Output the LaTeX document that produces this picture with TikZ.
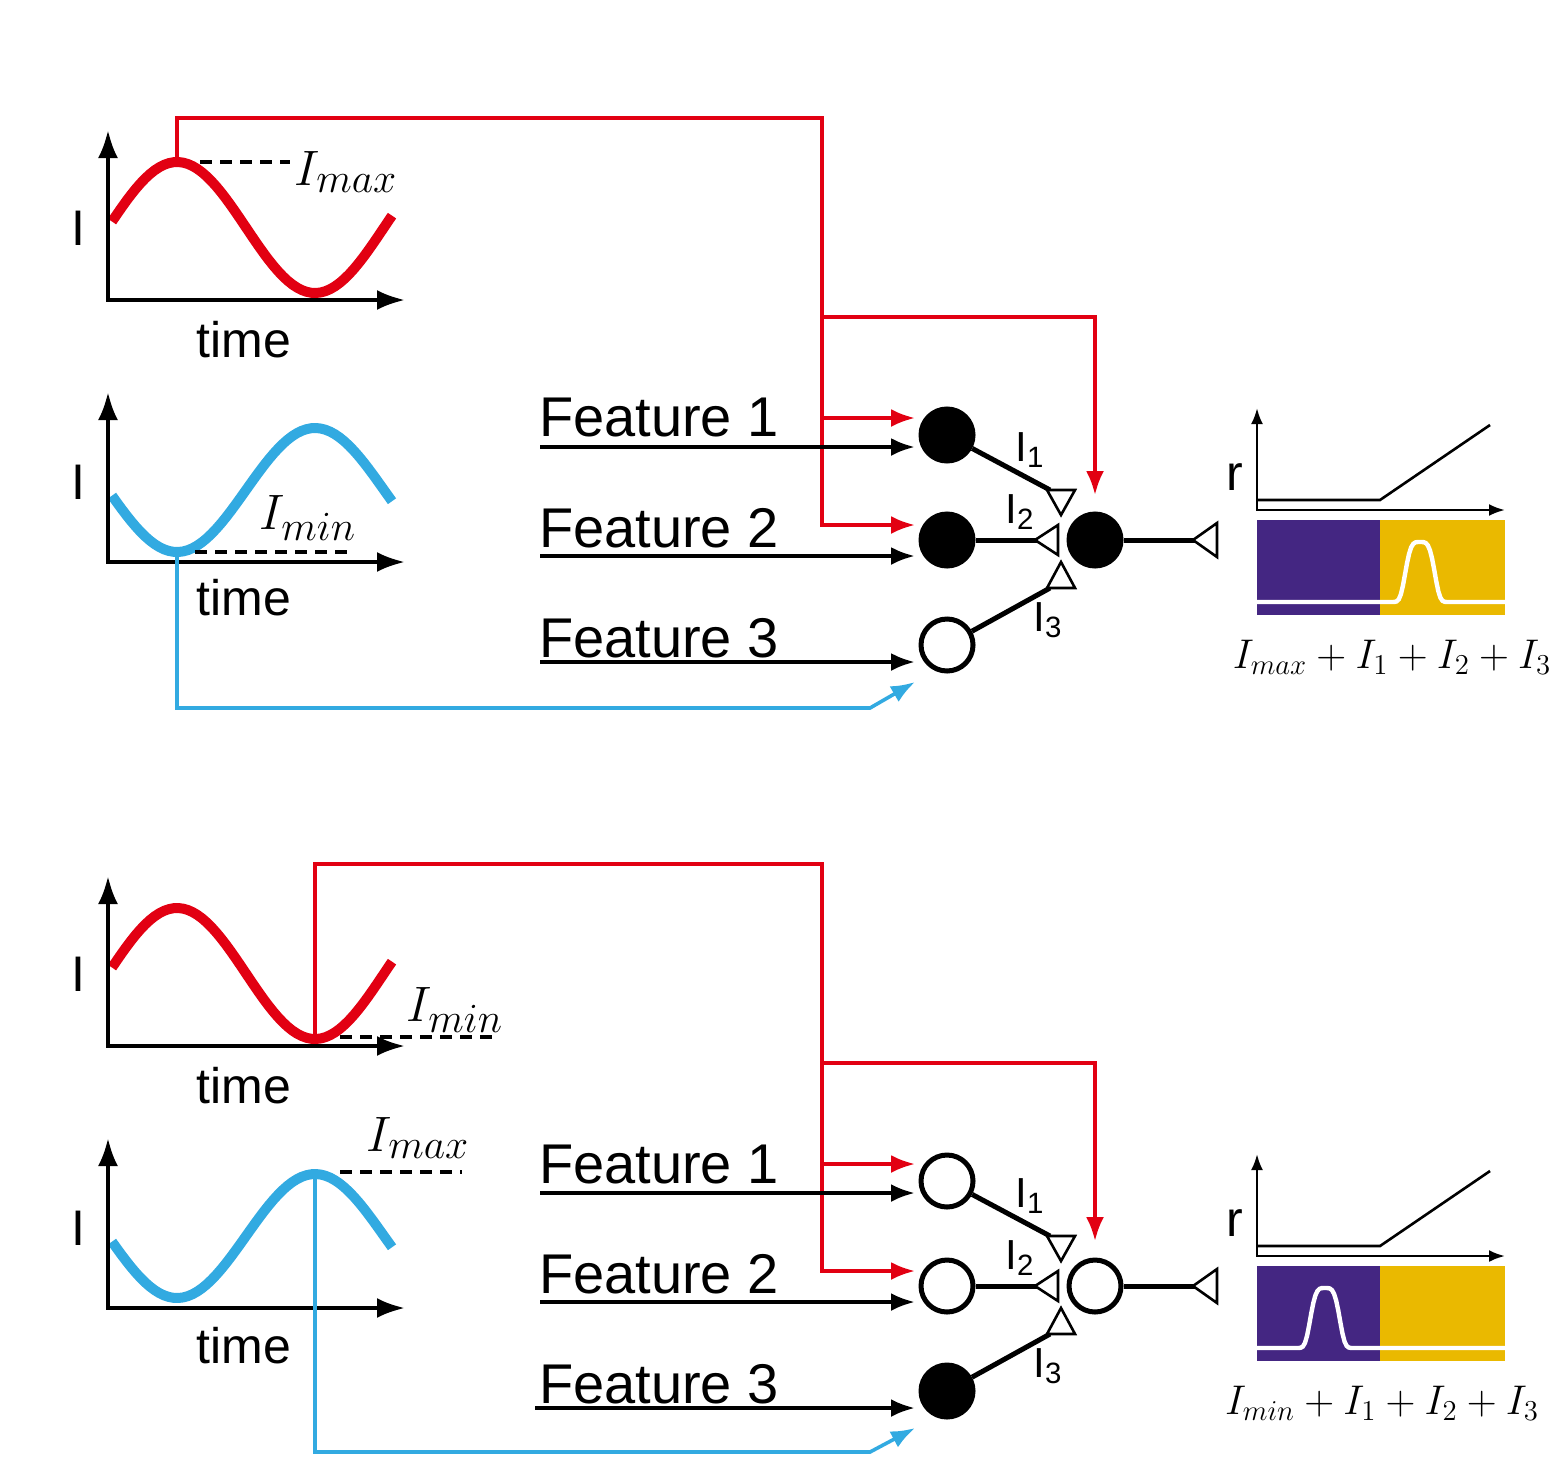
\documentclass[tikz,border=0pt]{standalone}
\usepackage{fontspec}
\setmainfont{Liberation Sans}
\usetikzlibrary{arrows.meta, positioning}
\definecolor{redline}{RGB}{226,0,18}
\definecolor{blueline}{RGB}{50,170,225}
\definecolor{purplebox}{RGB}{68,38,130}
\definecolor{yellowbox}{RGB}{234,185,0}
\tikzset{
	axis/.style={line width=2pt, -{Latex[length=14pt,width=10pt]}},
	wave/.style={line width=5pt},
	link/.style={line width=1.8pt, -{Latex[length=12pt,width=9pt]}},
	feat/.style={line width=2pt, -{Latex[length=12pt,width=9pt]}},
	cell/.style={draw, circle, line width=2.5pt, minimum size=26pt, inner sep=0pt},
	on/.style={cell, fill=black},
	off/.style={cell, fill=white},
	syn/.style={draw, line width=1.3pt, fill=white},
	level/.style={line width=2pt, dash pattern=on 6pt off 4pt},
	label/.style={font=\fontsize{25}{25}\selectfont},
	ftext/.style={font=\fontsize{28}{28}\selectfont, anchor=west},
	imath/.style={font=\fontsize{30}{30}\selectfont},
}

\begin{document}
\begin{tikzpicture}[x=0.5pt, y=-0.5pt]
	\useasboundingbox (0,0) rectangle (1566,1456);

	%% ---------- top panel ----------
	\draw[redline, wave, domain=112:392, samples=60] plot (\x, {227.5-65.5*cos((\x-177)/138*180)});
	\coordinate (peakA) at (177,162);
	\draw[axis] (108,300) -- (108,130);
	\draw[axis] (106,300) -- (405,300);
	\node (ia) [label] at (78,228) {I};
	\node (ta) [label] at (244,340) {time};
	\draw[level] (200,162) -- (290,162);
	\node (imaxa) [imath] at (346,172) {$I_{max}$};

	\draw[blueline, wave, domain=112:392, samples=60] plot (\x, {490+62*cos((\x-177)/138*180)});
	\coordinate (troughA) at (177,552);
	\draw[axis] (108,562) -- (108,392);
	\draw[axis] (106,562) -- (405,562);
	\node (ib) [label] at (78,482) {I};
	\node (tb) [label] at (244,598) {time};
	\draw[level] (195,552) -- (350,552);
	\node (imina) [imath] at (308,518) {$I_{min}$};

	\node (f1a) [ftext] at (532,418) {Feature 1};
	\node (f2a) [ftext] at (532,528) {Feature 2};
	\node (f3a) [ftext] at (532,638) {Feature 3};
	\node (n1a) [on] at (947,435) {};
	\node (n2a) [on] at (947,540) {};
	\node (n3a) [off] at (947,645) {};
	\node (outa) [on] at (1095,540) {};
	\coordinate (f1sa) at (540,447);
	\coordinate (f2sa) at (540,556);
	\coordinate (f3sa) at (540,662);

	\begin{scope}[redline, link]
		\draw (peakA) -- (177,118) -- (822,118) -- (822,525) -- (915,525);
		\draw (822,418) -- (915,418);
		\draw (822,317) -- (1095,317) -- (1095,495);
	\end{scope}
	\draw[blueline, link] (troughA) -- (177,708) -- (870,708) -- (915,682);
	\begin{scope}[feat]
		\draw (f1sa) -- (915,447);
		\draw (f2sa) -- (915,556);
		\draw (f3sa) -- (915,662);
	\end{scope}

	\draw[line width=2.5pt] (n1a) -- (1050,490);
	\draw[line width=2.5pt] (n2a) -- (1037,540);
	\draw[line width=2.5pt] (n3a) -- (1050,588);
	\draw[line width=2.5pt] (outa) -- (1195,540);
	\draw[syn] (1047,490) -- (1075,490) -- (1061,515) -- cycle;
	\draw[syn] (1035,540) -- (1058,525) -- (1058,555) -- cycle;
	\draw[syn] (1047,588) -- (1075,588) -- (1061,562) -- cycle;
	\draw[syn] (1193,540) -- (1217,523) -- (1217,557) -- cycle;
	\node (l1a) [label, font=\fontsize{21}{21}\selectfont] at (1030,450) {I\textsubscript{1}};
	\node (l2a) [label, font=\fontsize{21}{21}\selectfont] at (1020,512) {I\textsubscript{2}};
	\node (l3a) [label, font=\fontsize{21}{21}\selectfont] at (1048,620) {I\textsubscript{3}};

	\draw[line width=1.3pt, -{Latex[length=8pt,width=6pt]}] (1257,510) -- (1257,408);
	\draw[line width=1.3pt, -{Latex[length=8pt,width=6pt]}] (1256,510) -- (1505,510);
	\draw[line width=1.3pt] (1258,500) -- (1380,500) -- (1490,425);
	\node (ra) [label] at (1235,477) {r};
	\fill[purplebox] (1257,520) rectangle (1380,615);
	\fill[yellowbox] (1380,520) rectangle (1505,615);
	\draw[white, line width=2.2pt, domain=1257:1505, samples=120] plot (\x, {602-60*exp(-((\x-1420)/16)^4)});
	\node (suma) [font=\fontsize{21}{21}\selectfont] at (1392,657) {$I_{max}+I_1+I_2+I_3$};

	%% ---------- bottom panel ----------
	\draw[redline, wave, domain=112:392, samples=60] plot (\x, {973.5-65.5*cos((\x-177)/138*180)});
	\coordinate (troughB) at (315,1036);
	\draw[axis] (108,1046) -- (108,876);
	\draw[axis] (106,1046) -- (405,1046);
	\node (ic) [label] at (78,974) {I};
	\node (tc) [label] at (244,1086) {time};
	\draw[level] (340,1037) -- (495,1037);
	\node (iminb) [imath] at (455,1010) {$I_{min}$};

	\draw[blueline, wave, domain=112:392, samples=60] plot (\x, {1236+62*cos((\x-177)/138*180)});
	\coordinate (peakB) at (315,1172);
	\draw[axis] (108,1308) -- (108,1138);
	\draw[axis] (106,1308) -- (405,1308);
	\node (id) [label] at (78,1228) {I};
	\node (td) [label] at (244,1346) {time};
	\draw[level] (340,1172) -- (462,1172);
	\node (imaxb) [imath] at (418,1138) {$I_{max}$};

	\node (f1b) [ftext] at (532,1164) {Feature 1};
	\node (f2b) [ftext] at (532,1274) {Feature 2};
	\node (f3b) [ftext] at (532,1384) {Feature 3};
	\node (n1b) [off] at (947,1181) {};
	\node (n2b) [off] at (947,1286) {};
	\node (n3b) [on] at (947,1391) {};
	\node (outb) [off] at (1095,1286) {};
	\coordinate (f1sb) at (540,1193);
	\coordinate (f2sb) at (540,1302);
	\coordinate (f3sb) at (535,1408);

	\begin{scope}[redline, link]
		\draw (troughB) -- (315,864) -- (822,864) -- (822,1271) -- (915,1271);
		\draw (822,1164) -- (915,1164);
		\draw (822,1063) -- (1095,1063) -- (1095,1241);
	\end{scope}
	\draw[blueline, link] (peakB) -- (315,1452) -- (870,1452) -- (915,1428);
	\begin{scope}[feat]
		\draw (f1sb) -- (915,1193);
		\draw (f2sb) -- (915,1302);
		\draw (f3sb) -- (915,1408);
	\end{scope}

	\draw[line width=2.5pt] (n1b) -- (1050,1236);
	\draw[line width=2.5pt] (n2b) -- (1037,1286);
	\draw[line width=2.5pt] (n3b) -- (1050,1334);
	\draw[line width=2.5pt] (outb) -- (1195,1286);
	\draw[syn] (1047,1236) -- (1075,1236) -- (1061,1261) -- cycle;
	\draw[syn] (1035,1286) -- (1058,1271) -- (1058,1301) -- cycle;
	\draw[syn] (1047,1334) -- (1075,1334) -- (1061,1308) -- cycle;
	\draw[syn] (1193,1286) -- (1217,1269) -- (1217,1303) -- cycle;
	\node (l1b) [label, font=\fontsize{21}{21}\selectfont] at (1030,1196) {I\textsubscript{1}};
	\node (l2b) [label, font=\fontsize{21}{21}\selectfont] at (1020,1258) {I\textsubscript{2}};
	\node (l3b) [label, font=\fontsize{21}{21}\selectfont] at (1048,1366) {I\textsubscript{3}};

	\draw[line width=1.3pt, -{Latex[length=8pt,width=6pt]}] (1257,1256) -- (1257,1154);
	\draw[line width=1.3pt, -{Latex[length=8pt,width=6pt]}] (1256,1256) -- (1505,1256);
	\draw[line width=1.3pt] (1258,1246) -- (1380,1246) -- (1490,1171);
	\node (rb) [label] at (1235,1223) {r};
	\fill[purplebox] (1257,1266) rectangle (1380,1361);
	\fill[yellowbox] (1380,1266) rectangle (1505,1361);
	\draw[white, line width=2.2pt, domain=1257:1505, samples=120] plot (\x, {1348-60*exp(-((\x-1325)/16)^4)});
	\node (sumb) [font=\fontsize{21}{21}\selectfont] at (1382,1403) {$I_{min}+I_1+I_2+I_3$};
\end{tikzpicture}
\end{document}
